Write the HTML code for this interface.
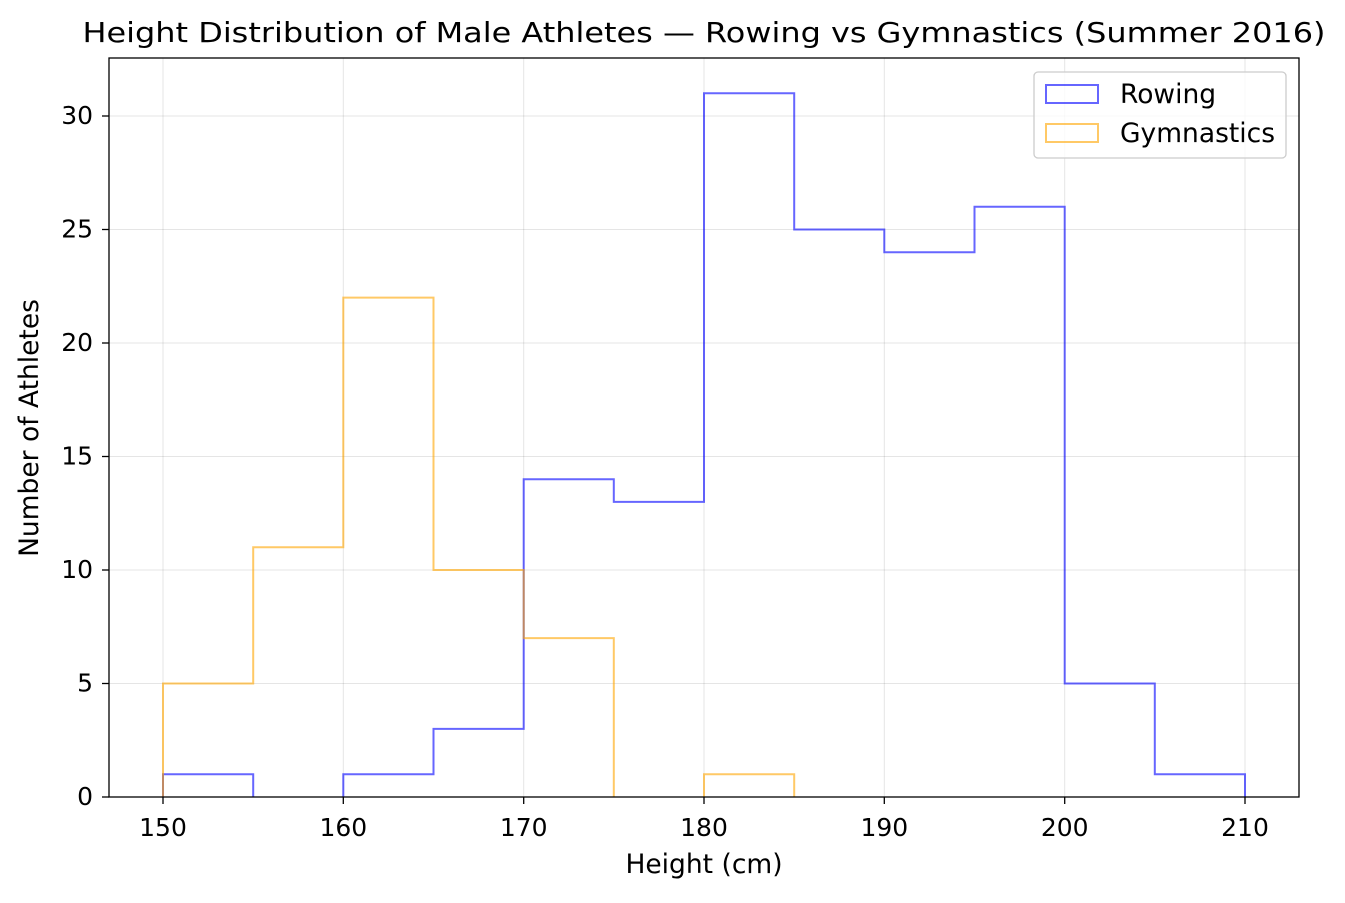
<!DOCTYPE html>
<html><head><meta charset="utf-8"><style>body{margin:0;background:#fff}</style></head><body>
<svg width="1345" height="898" xmlns="http://www.w3.org/2000/svg" font-family="DejaVu Sans, sans-serif">
<rect width="1345" height="898" fill="#fff"/>
<g stroke="#000" stroke-opacity="0.1" stroke-width="1">
<line x1="163" y1="58" x2="163" y2="797"/><line x1="343.3" y1="58" x2="343.3" y2="797"/><line x1="523.7" y1="58" x2="523.7" y2="797"/><line x1="704" y1="58" x2="704" y2="797"/><line x1="884.3" y1="58" x2="884.3" y2="797"/><line x1="1064.7" y1="58" x2="1064.7" y2="797"/><line x1="1245" y1="58" x2="1245" y2="797"/>
<line x1="109" y1="683.5" x2="1299" y2="683.5"/><line x1="109" y1="570" x2="1299" y2="570"/><line x1="109" y1="456.5" x2="1299" y2="456.5"/><line x1="109" y1="343" x2="1299" y2="343"/><line x1="109" y1="229.5" x2="1299" y2="229.5"/><line x1="109" y1="116" x2="1299" y2="116"/>
</g>
<path d="M163 797V774.3H253.2V797M343.3 797V774.3H433.5V728.9H523.7V479.2H613.8V501.9H704V93.3H794.2V229.5H884.3V252.2H974.5V206.8H1064.7V683.5H1154.8V774.3H1245V797" fill="none" stroke="#0000ff" stroke-opacity="0.6" stroke-width="2"/>
<path d="M163 797V683.5H253.2V547.3H343.3V297.6H433.5V570H523.7V638.1H613.8V797M704 797V774.3H794.2V797" fill="none" stroke="#ffa500" stroke-opacity="0.6" stroke-width="2"/>
<rect x="109" y="58" width="1190" height="739" fill="none" stroke="#000" stroke-width="1.3"/>
<g stroke="#000" stroke-width="1.3">
<line x1="163" y1="797" x2="163" y2="804"/><line x1="343.3" y1="797" x2="343.3" y2="804"/><line x1="523.7" y1="797" x2="523.7" y2="804"/><line x1="704" y1="797" x2="704" y2="804"/><line x1="884.3" y1="797" x2="884.3" y2="804"/><line x1="1064.7" y1="797" x2="1064.7" y2="804"/><line x1="1245" y1="797" x2="1245" y2="804"/>
<line x1="102" y1="797" x2="109" y2="797"/><line x1="102" y1="683.5" x2="109" y2="683.5"/><line x1="102" y1="570" x2="109" y2="570"/><line x1="102" y1="456.5" x2="109" y2="456.5"/><line x1="102" y1="343" x2="109" y2="343"/><line x1="102" y1="229.5" x2="109" y2="229.5"/><line x1="102" y1="116" x2="109" y2="116"/>
</g>
<g font-size="25" fill="#000" text-anchor="middle">
<text x="163" y="836">150</text><text x="343.3" y="836">160</text><text x="523.7" y="836">170</text><text x="704" y="836">180</text><text x="884.3" y="836">190</text><text x="1064.7" y="836">200</text><text x="1245" y="836">210</text>
</g>
<g font-size="25" fill="#000" text-anchor="end">
<text x="93" y="805">0</text><text x="93" y="691.5">5</text><text x="93" y="578">10</text><text x="93" y="464.5">15</text><text x="93" y="351">20</text><text x="93" y="237.5">25</text><text x="93" y="124">30</text>
</g>
<text x="704" y="873" font-size="26.5" text-anchor="middle">Height (cm)</text>
<text transform="translate(38,428) rotate(-90)" font-size="26.5" text-anchor="middle">Number of Athletes</text>
<text x="704" y="42" font-size="28" text-anchor="middle" textLength="1243" lengthAdjust="spacingAndGlyphs">Height Distribution of Male Athletes — Rowing vs Gymnastics (Summer 2016)</text>
<rect x="1034" y="72" width="252" height="86" rx="4" fill="#fff" fill-opacity="0.8" stroke="#ccc" stroke-width="1.3"/>
<rect x="1046" y="85" width="52" height="18" fill="none" stroke="#0000ff" stroke-opacity="0.6" stroke-width="2"/>
<rect x="1046" y="124" width="52" height="18" fill="none" stroke="#ffa500" stroke-opacity="0.6" stroke-width="2"/>
<text x="1120" y="103" font-size="26.5">Rowing</text>
<text x="1120" y="142" font-size="26.5">Gymnastics</text>
</svg>
</body></html>
